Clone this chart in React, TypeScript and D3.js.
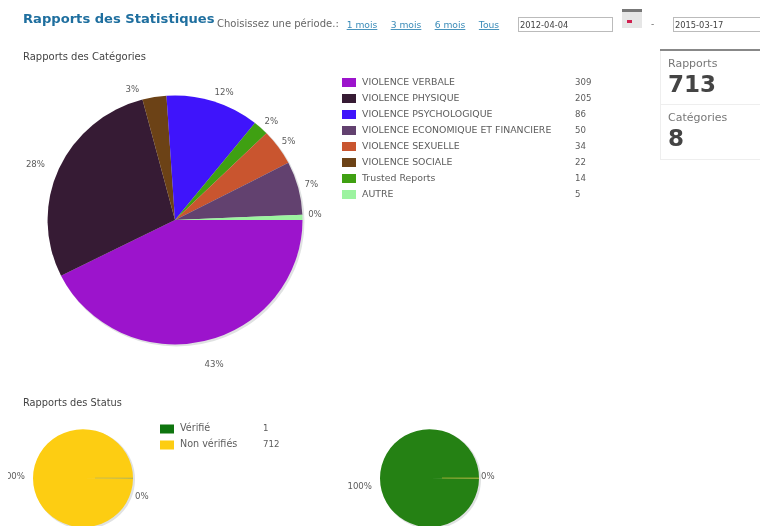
import React from "react";
import * as d3 from "d3";

const catNames = ["VIOLENCE VERBALE", "VIOLENCE PHYSIQUE", "VIOLENCE PSYCHOLOGIQUE", "VIOLENCE ECONOMIQUE ET FINANCIERE", "VIOLENCE SEXUELLE", "VIOLENCE SOCIALE", "Trusted Reports", "AUTRE"];
const catValues = [309, 205, 86, 50, 34, 22, 14, 5];
const catColors = ["#9c14cc", "#361b34", "#3f14fb", "#62416f", "#c9552f", "#6c4216", "#3fa012", "#9cf3a0"];
const pieOrder = [0, 1, 5, 2, 6, 4, 3, 7];
const pieLabels = ["43%", "28%", "3%", "12%", "2%", "5%", "7%", "0%"];
const statusNames = ["Vérifié", "Non vérifiés"];
const statusValues = [1, 712];
const statusColors = ["#0e750e", "#fdcd12"];
const periods = ["1 mois", "3 mois", "6 mois", "Tous"];

const font = "'DejaVu Sans', Verdana, sans-serif";
const grey = "#5c5c5c";

function Pie({ cx, cy, rx, ry, values, colors }: { cx: number; cy: number; rx: number; ry: number; values: number[]; colors: string[] }) {
  const arcs = d3.pie<number>().sort(null).startAngle(Math.PI / 2).endAngle(Math.PI * 2.5)(values);
  const arc = d3.arc<d3.PieArcDatum<number>>().innerRadius(0).outerRadius(1);
  return (
    <g transform={`translate(${cx},${cy})`}>
      <ellipse cx={1.5} cy={1.5} rx={rx + 0.5} ry={ry + 0.5} fill="#e0e2e2" />
      <g transform={`scale(${rx},${ry})`}>
        {arcs.map((a, i) => <path key={i} d={arc(a) || ""} fill={colors[i]} />)}
      </g>
    </g>
  );
}

export default function App() {
  const cx = 175, cy = 220;
  const labelArc = d3.arc<any>().innerRadius(140).outerRadius(140);
  const mainValues = pieOrder.map(i => catValues[i]);
  const mainArcs = d3.pie<number>().sort(null).startAngle(Math.PI / 2).endAngle(Math.PI * 2.5)(mainValues);
  const nudge = [[7, 8], [-12, 2], [-20, 7], [7, 5.5], [2, 4.5], [0, 3], [1, 0], [0, -3]];
  const periodCx = [362, 406, 450, 489];
  return (
    <svg width={760} height={526} style={{ position: "absolute", left: 0, top: 0, background: "#fff", filter: "blur(0.55px)" }} fontFamily={font}>
      <defs>
        <clipPath id="pg"><rect x={8} y={0} width={752} height={526} /></clipPath>
      </defs>
      <text x={23} y={23} fontSize={13.1} fontWeight={700} fill="#1f6f9f">Rapports des Statistiques</text>
      <text x={217} y={27} fontSize={10} fill="#666">Choisissez une période.:</text>
      {periods.map((p, i) => (
        <text key={p} x={periodCx[i]} y={28} fontSize={9.2} fill="#3a8bb8" textAnchor="middle" textDecoration="underline">{p}</text>
      ))}
      <rect x={518.5} y={17.5} width={94} height={14} fill="#fff" stroke="#bbb" />
      <text x={520} y={27.5} fontSize={8.3} fill="#444">2012-04-04</text>
      <rect x={622} y={10} width={20} height={18} fill="#e6e6e6" />
      <rect x={622} y={9} width={20} height={3} fill="#777" />
      <rect x={627} y={20} width={5} height={3} fill="#d02050" />
      <text x={651} y={27} fontSize={9} fill="#666">-</text>
      <rect x={673.5} y={17.5} width={90} height={14} fill="#fff" stroke="#bbb" />
      <text x={675} y={27.5} fontSize={8.3} fill="#444">2015-03-17</text>

      <text x={23} y={60} fontSize={10} fill="#444">Rapports des Catégories</text>

      <Pie cx={cx} cy={cy} rx={127.5} ry={124.5} values={mainValues} colors={pieOrder.map(i => catColors[i])} />
      {mainArcs.map((a, i) => {
        const [x, y] = labelArc.centroid(a);
        return <text key={i} x={cx + x + nudge[i][0]} y={cy + y + nudge[i][1] + 3} fontSize={8.6} fill={grey} textAnchor="middle">{pieLabels[i]}</text>;
      })}

      {catNames.map((n, i) => (
        <g key={n}>
          <rect x={342} y={78 + i * 16} width={14} height={9} fill={catColors[i]} />
          <text x={362} y={84.5 + i * 16} fontSize={9.4} fill={grey}>{n}</text>
          <text x={575} y={84.5 + i * 16} fontSize={8.6} fill={grey}>{catValues[i]}</text>
        </g>
      ))}

      <rect x={660.5} y={49.5} width={100} height={110} fill="#fff" stroke="#eee" />
      <rect x={660} y={49} width={100} height={2} fill="#888" />
      <line x1={660} x2={760} y1={104.5} y2={104.5} stroke="#eee" />
      <text x={668} y={67} fontSize={11} fill="#777">Rapports</text>
      <text x={668} y={92} fontSize={23} fontWeight={700} fill="#444">713</text>
      <text x={668} y={121} fontSize={11} fill="#777">Catégories</text>
      <text x={668} y={146} fontSize={23} fontWeight={700} fill="#444">8</text>

      <text x={23} y={406} fontSize={9.8} fill="#444">Rapports des Status</text>
      {statusNames.map((n, i) => (
        <g key={n}>
          <rect x={160} y={424.5 + i * 16} width={14} height={9} fill={statusColors[i]} />
          <text x={180} y={431 + i * 16} fontSize={9.6} fill={grey}>{n}</text>
          <text x={263} y={431 + i * 16} fontSize={8.6} fill={grey}>{statusValues[i]}</text>
        </g>
      ))}

      <Pie cx={83} cy={478} rx={50} ry={49} values={statusValues} colors={statusColors} />
      <line x1={95} x2={133} y1={478} y2={478} stroke="#c4b64a" strokeWidth={0.8} />
      <text x={25} y={479} fontSize={8.6} fill={grey} textAnchor="end" clipPath="url(#pg)">100%</text>
      <text x={135} y={499} fontSize={8.6} fill={grey}>0%</text>

      <Pie cx={429.5} cy={478} rx={49.5} ry={49} values={statusValues} colors={[statusColors[1], "#258114"]} />
      <line x1={442} x2={479} y1={478} y2={478} stroke="#9aa82a" strokeWidth={0.9} />
      <text x={372} y={489} fontSize={8.6} fill={grey} textAnchor="end">100%</text>
      <text x={481} y={479} fontSize={8.6} fill={grey}>0%</text>
    </svg>
  );
}
